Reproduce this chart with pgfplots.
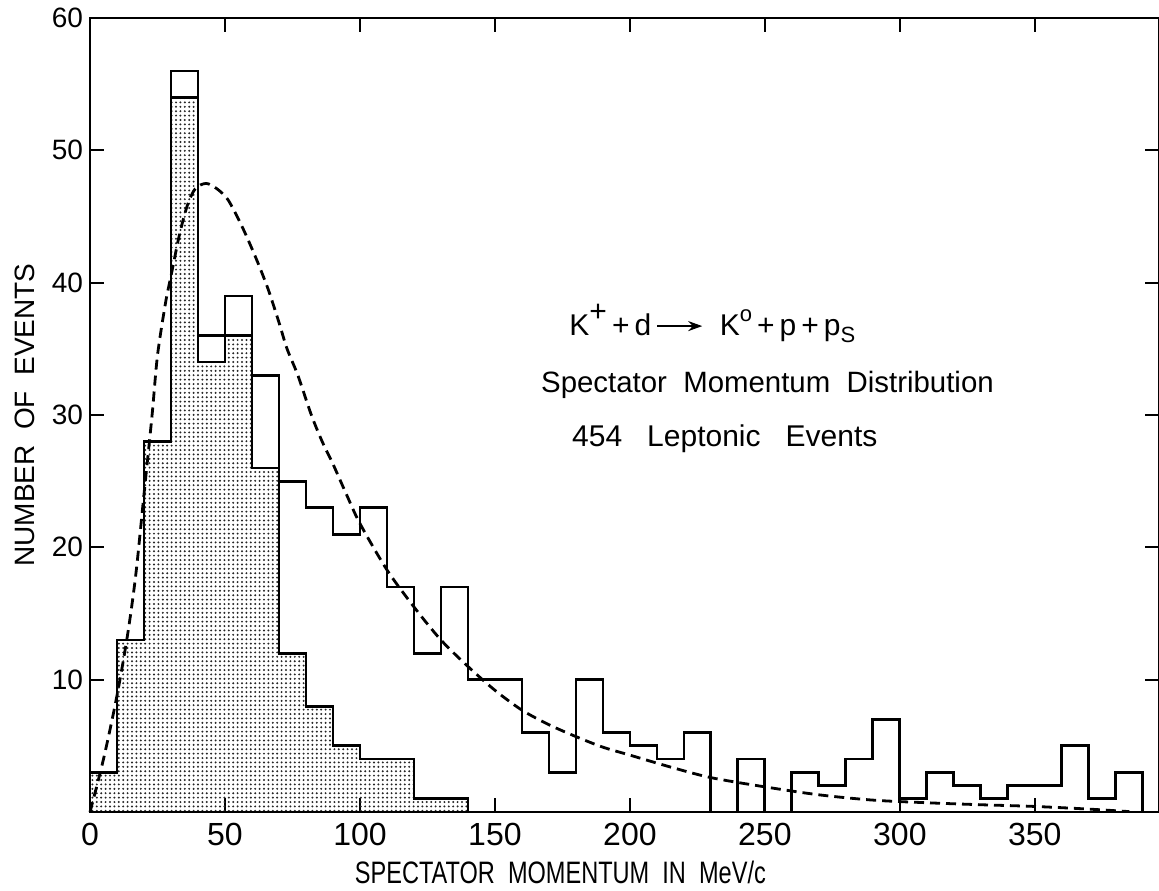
\documentclass[border=0pt]{standalone}
\usepackage{pgfplots}
\pgfplotsset{compat=1.18}
\usepackage{graphicx}
\usepackage{fontspec}
\setmainfont{Liberation Sans}
\usetikzlibrary{patterns.meta,arrows.meta}
\begin{document}
\begin{tikzpicture}
\begin{axis}[
  scale only axis,
  width=534.5pt, height=397pt,
  xmin=0, xmax=396, ymin=0, ymax=60,
  xtick={0,50,...,350}, ytick={10,20,...,60},
  tick align=inside,
  major tick length=7pt,
  axis line style={line width=1pt},
  tick style={line width=1pt, black},
  /pgf/number format/assume math mode=true,
  xticklabel style={font=\fontsize{16}{16}\selectfont, yshift=-2pt},
  yticklabel style={font=\fontsize{14}{14}\selectfont},
  xlabel={\scalebox{0.76}[1]{SPECTATOR\ \ MOMENTUM\ \ IN\ \ MeV/c}},
  xlabel style={at={(axis description cs:0.44,-0.09)}, anchor=base, font=\fontsize{15.5}{15.5}\selectfont},
  ylabel={NUMBER\ \ OF\ \ EVENTS},
  ylabel style={at={(axis description cs:-0.0608,0.5)}, anchor=center, font=\fontsize{14}{14}\selectfont},
  clip=false,
]
% shaded (stippled) histogram
\addplot[const plot, draw=black, line width=1.4pt, pattern={Dots[distance=2.2pt, radius=0.55pt]}, pattern color=black!85] coordinates {
(0,3) (10,13) (20,28) (30,54) (40,34) (50,36) (60,26) (70,12) (80,8) (90,5)
(100,4) (110,4) (120,1) (130,1) (140,0)
} \closedcycle;
% total histogram
\addplot[const plot, draw=black, line width=1.4pt] coordinates {
(0,0) (0,3) (10,13) (20,28) (30,56) (40,36) (50,39) (60,33) (70,25) (80,23) (90,21)
(100,23) (110,17) (120,12) (130,17) (140,10) (150,10) (160,6) (170,3) (180,10) (190,6)
(200,5) (210,4) (220,6) (230,0) (240,4) (250,0) (260,3) (270,2) (280,4) (290,7)
(300,1) (310,3) (320,2) (330,1) (340,2) (350,2) (360,5) (370,1) (380,3) (390,0)
};
% fitted curve
\addplot[smooth, black, line width=1.4pt, dash pattern=on 5pt off 3pt] coordinates {
(0,0) (5,4) (10,8.8) (14,13.5) (17,18) (20,24) (23,30) (25,34.5) (28,38.5) (30,40.5)
(33,43.5) (36,45.8) (39,47.1) (43,47.5) (47,47.1) (51,46.3) (55,44.8) (58,43.5)
(62,41.6) (66,39.5) (70,37) (73,35) (77,33) (82,30) (86,28) (90,26.3) (95,24)
(100,21.8) (110,18.3) (120,15.5) (130,13) (140,11) (150,9.2) (160,7.7) (170,6.6)
(180,5.7) (190,4.9) (200,4.3) (215,3.4) (230,2.6) (250,1.9) (270,1.3) (290,0.9)
(310,0.7) (330,0.55) (350,0.42) (370,0.22) (385,0.03)
};
\node[anchor=base west, font=\fontsize{15}{15}\selectfont] at (axis cs:175,36)
  {K\raisebox{0.9ex}{+}\,+\,d\,\tikz[baseline=-0.6ex]\draw[line width=1pt,-{Stealth[length=7pt,width=5pt]}] (0,0)--(1.5em,0);\ \ K\raisebox{0.9ex}{\fontsize{11}{11}\selectfont o}\,+\,p\,+\,p\raisebox{-0.45ex}{\fontsize{11}{11}\selectfont S}};
\node[anchor=base west, font=\fontsize{14.7}{14.7}\selectfont] at (axis cs:164.5,31.7)
  {Spectator\ \ Momentum\ \ Distribution};
\node[anchor=base west, font=\fontsize{15}{15}\selectfont] at (axis cs:176,27.6)
  {454\ \ \ Leptonic\ \ \ Events};
\end{axis}
\pgfresetboundingbox
\path[use as bounding box] (-45pt,-39pt) rectangle (534.5pt,406pt);
\end{tikzpicture}
\end{document}
